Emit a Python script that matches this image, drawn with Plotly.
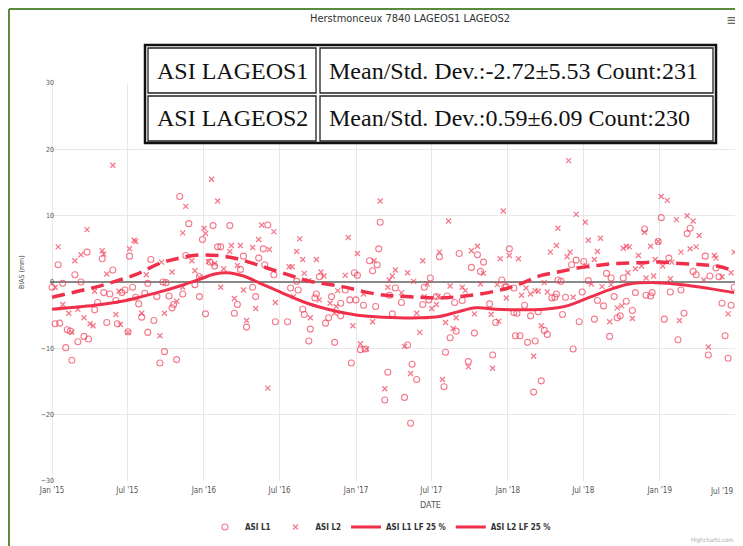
import numpy as np
import pandas as pd
import plotly.graph_objects as go

# ASI L1 (LAGEOS1) bias points: decimal year, bias in mm
l1_year = [2015.04, 2015.00, 2015.07, 2015.02, 2015.05, 2015.10, 2015.12, 2015.17, 2015.21, 2015.24,
           2015.09, 2015.13, 2015.15, 2015.19, 2015.23, 2015.33, 2015.40, 2015.28, 2015.30, 2015.34,
           2015.38, 2015.46, 2015.48, 2015.42, 2015.36, 2015.43, 2015.50, 2015.51, 2015.53, 2015.55,
           2015.57, 2015.59, 2015.61, 2015.63, 2015.65, 2015.67, 2015.63, 2015.71, 2015.74, 2015.82,
           2015.69, 2015.73, 2015.75, 2015.77, 2015.80, 2015.79, 2015.84, 2015.86, 2015.88, 2015.90,
           2015.94, 2015.97, 2015.97, 2015.99, 2016.01, 2016.04, 2016.06, 2016.07, 2016.09, 2016.11,
           2016.17, 2016.20, 2016.22, 2016.24, 2016.26, 2016.28, 2016.32, 2016.34, 2016.36, 2016.39,
           2016.40, 2016.42, 2016.46, 2016.47, 2016.55, 2016.57, 2016.61, 2016.62, 2016.65, 2016.66,
           2016.69, 2016.70, 2016.74, 2016.73, 2016.76, 2016.80, 2016.82, 2016.84, 2016.86, 2016.90,
           2016.90, 2016.93, 2016.96, 2016.97, 2016.99, 2017.00, 2017.01, 2017.03, 2017.06, 2017.05,
           2017.09, 2017.11, 2017.13, 2017.15, 2017.16, 2017.14, 2017.19, 2017.21, 2017.22, 2017.24,
           2017.26, 2017.30, 2017.32, 2017.34, 2017.36, 2017.37, 2017.40, 2017.44, 2017.45, 2017.48,
           2017.49, 2017.53, 2017.55, 2017.58, 2017.59, 2017.60, 2017.62, 2017.65, 2017.66, 2017.68,
           2017.70, 2017.74, 2017.76, 2017.78, 2017.80, 2017.82, 2017.84, 2017.88, 2017.90, 2017.92,
           2017.96, 2017.98, 2018.01, 2017.99, 2018.04, 2018.04, 2018.06, 2018.05, 2018.08, 2018.11,
           2018.13, 2018.15, 2018.17, 2018.18, 2018.20, 2018.22, 2018.24, 2018.26, 2018.29, 2018.31,
           2018.32, 2018.33, 2018.35, 2018.36, 2018.38, 2018.42, 2018.43, 2018.45, 2018.47, 2018.49,
           2018.50, 2018.53, 2018.57, 2018.59, 2018.63, 2018.65, 2018.67, 2018.68, 2018.70, 2018.72,
           2018.74, 2018.76, 2018.78, 2018.82, 2018.84, 2018.90, 2018.91, 2018.94, 2018.95, 2018.99,
           2019.01, 2019.03, 2019.06, 2019.07, 2019.12, 2019.14, 2019.16, 2019.18, 2019.20, 2019.22,
           2019.24, 2019.30, 2019.32, 2019.33, 2019.37, 2019.39, 2019.41, 2019.43, 2019.45, 2019.47,
           2019.49]
l1_bias = [2.6, -0.8, -0.2, -6.3, -6.2, -7.2, -7.4, -9.0, -8.2, -8.6,
           -9.9, -11.8, 1.1, 0.0, 4.5, 3.5, 1.8, -4.2, -3.1, -1.6,
           -1.8, -1.6, -1.2, -2.8, -6.1, -6.3, -7.5, 3.9, -0.8, -2.3,
           -3.3, -5.3, -1.7, -0.2, 3.4, -5.8, -7.6, -12.2, -10.5, -11.7,
           -2.2, 0.0, -0.1, -2.1, -3.4, -3.9, 12.9, -1.8, 4.0, 8.8,
           -0.4, -2.2, 0.8, 6.4, -4.8, 3.0, 8.5, 2.4, 5.3, 5.3,
           8.5, -4.7, -3.4, 1.9, 3.9, -6.8, -0.8, -2.2, 3.6, 5.0,
           2.6, 8.6, 1.1, -6.0, -6.0, -0.9, 0.1, -1.2, -4.1, -4.9,
           -8.9, -7.1, -1.8, -2.4, 0.8, -6.2, -5.4, -2.2, -9.1, -3.2,
           -5.1, -1.2, -2.7, -12.2, 1.4, -2.7, 1.0, -10.2, -10.1, -3.5,
           3.2, 1.7, -3.7, 5.0, 9.0, 2.6, -17.8, -13.6, -2.0, -4.8,
           -0.9, -3.1, -17.4, -9.5, -21.3, -12.4, -14.7, -3.4, -0.8, -2.7,
           0.6, -2.2, 3.8, -15.8, -10.6, -2.1, -8.4, -3.1, -7.4, 4.3,
           -2.8, -12.0, 2.2, -7.7, 4.1, 1.6, 3.0, -3.3, -11.0, -6.1,
           0.3, -0.8, 5.0, -0.7, -0.9, -4.6, -4.7, -8.1, -8.1, -3.5,
           -9.1, -5.1, -16.6, -8.9, -4.5, -14.9, -7.3, -7.9, -2.4, -2.3,
           -1.8, 0.3, 0.1, -4.9, -2.3, 2.6, -10.1, 3.3, -6.0, -1.5,
           3.1, 0.2, -5.6, -2.8, -3.6, 1.3, -8.2, 0.6, -2.2, -5.4,
           -5.1, 0.6, -2.9, -4.3, -1.6, 8.0, -2.0, -2.1, -1.6, 6.1,
           9.7, -5.6, 3.6, -1.5, -8.7, -1.2, -4.7, 7.3, 8.1, 1.6,
           1.1, 3.9, -11.0, 0.9, 2.1, 0.8, -3.2, -8.1, -11.5, -3.5,
           -0.8]

# ASI L2 (LAGEOS2) bias points
l2_year = [2015.04, 2015.02, 2015.07, 2015.11, 2015.13, 2015.15, 2015.17, 2015.19, 2015.21, 2015.23,
           2015.25, 2015.27, 2015.28, 2015.33, 2015.34, 2015.36, 2015.40, 2015.42, 2015.44, 2015.45,
           2015.50, 2015.51, 2015.54, 2015.55, 2015.59, 2015.62, 2015.71, 2015.72, 2015.74, 2015.79,
           2015.82, 2015.86, 2015.86, 2015.88, 2015.92, 2015.94, 2015.97, 2016.00, 2016.01, 2016.03,
           2016.05, 2016.07, 2016.09, 2016.11, 2016.13, 2016.17, 2016.18, 2016.20, 2016.22, 2016.24,
           2016.26, 2016.28, 2016.32, 2016.34, 2016.36, 2016.38, 2016.42, 2016.43, 2016.46, 2016.47,
           2016.56, 2016.58, 2016.59, 2016.61, 2016.63, 2016.65, 2016.66, 2016.69, 2016.70, 2016.74,
           2016.76, 2016.77, 2016.79, 2016.83, 2016.86, 2016.87, 2016.88, 2016.93, 2016.95, 2016.98,
           2017.01, 2017.03, 2017.05, 2017.07, 2017.11, 2017.12, 2017.16, 2017.19, 2017.21, 2017.22,
           2017.24, 2017.26, 2017.30, 2017.32, 2017.34, 2017.36, 2017.38, 2017.40, 2017.42, 2017.44,
           2017.45, 2017.47, 2017.50, 2017.53, 2017.54, 2017.55, 2017.57, 2017.59, 2017.61, 2017.62,
           2017.64, 2017.66, 2017.70, 2017.72, 2017.74, 2017.76, 2017.78, 2017.80, 2017.82, 2017.84,
           2017.89, 2017.90, 2017.93, 2017.94, 2017.95, 2017.97, 2017.99, 2018.01, 2018.07, 2018.09,
           2018.12, 2018.15, 2018.17, 2018.18, 2018.20, 2018.22, 2018.24, 2018.26, 2018.28, 2018.32,
           2018.33, 2018.39, 2018.40, 2018.41, 2018.43, 2018.45, 2018.51, 2018.52, 2018.53, 2018.55,
           2018.57, 2018.59, 2018.61, 2018.62, 2018.67, 2018.68, 2018.72, 2018.75, 2018.76, 2018.78,
           2018.80, 2018.79, 2018.82, 2018.84, 2018.86, 2018.88, 2018.90, 2018.91, 2018.94, 2018.96,
           2018.97, 2018.99, 2019.01, 2019.02, 2019.05, 2019.07, 2019.08, 2019.11, 2019.13, 2019.14,
           2019.18, 2019.20, 2019.22, 2019.24, 2019.26, 2019.29, 2019.32, 2019.36, 2019.37, 2019.41,
           2019.45, 2019.47, 2019.49]
l2_bias = [5.3, -0.8, -3.4, -4.7, -7.6, 3.2, -4.1, 4.1, -5.4, 7.9,
           -6.3, -6.6, -1.4, 4.7, 4.2, 1.2, 17.6, -4.9, -1.4, -6.4,
           -7.6, 5.0, 6.3, 6.1, -4.7, 1.1, -8.1, 3.0, -4.7, 1.5,
           -2.9, 7.4, -0.8, 11.4, 3.2, 1.7, 0.7, 8.1, 7.3, 3.1,
           15.5, 2.8, 12.2, -0.8, 2.0, 4.6, 5.5, -2.5, 2.5, 5.5,
           -1.2, -5.8, 5.2, -4.0, 6.4, 8.6, -16.0, 4.9, 7.6, -3.1,
           2.3, 2.3, -2.2, 4.6, 6.5, 3.4, 1.3, 0.2, -5.4, 3.4,
           -2.7, 1.5, 0.9, -3.2, -4.7, -3.7, -1.3, 1.0, 6.7, -6.6,
           4.3, -9.3, -1.8, -10.1, -6.0, 3.2, 12.2, -16.1, -0.8, 0.3,
           0.9, 1.8, -1.6, -9.7, 1.4, -13.8, 0.1, -4.7, -7.6, 3.2,
           -2.2, -0.3, -4.0, -3.4, -2.2, 4.5, -14.7, -6.1, 9.2, -0.6,
           -7.0, -5.4, -0.8, -1.3, -12.8, 4.7, -4.8, 5.4, -0.3, 1.3,
           -4.9, -13.0, -0.4, -5.9, 3.5, 10.7, -2.4, 4.0, 3.5, -2.0,
           -0.9, -1.8, -11.2, -1.3, -1.4, -6.6, -0.1, -1.5, 4.5, 5.5,
           8.1, 3.8, 18.3, 4.5, -2.3, 10.2, 9.0, 2.4, 6.3, -0.3,
           3.4, 4.6, 6.6, -0.7, -6.0, -0.4, -3.9, -3.6, 5.1, 5.4,
           5.3, 1.4, -5.5, 2.0, 4.0, 2.4, 7.5, 0.6, 5.4, 0.9,
           3.4, 6.1, 12.9, 2.4, 12.3, 0.5, 3.0, 9.4, -5.8, 4.5,
           10.0, 5.0, 9.2, 5.3, 7.0, 0.3, -9.8, 4.0, 3.6, 0.8,
           -4.8, 1.4, 4.5]

# low-pass fits (LF 25 %)
l1_lf_year = [2015.00, 2015.28, 2015.46, 2015.59, 2015.74, 2015.84, 2015.97, 2016.07, 2016.15, 2016.26,
              2016.37, 2016.52, 2016.68, 2016.85, 2017.01, 2017.18, 2017.42, 2017.55, 2017.67, 2017.79,
              2017.92, 2018.06, 2018.24, 2018.39, 2018.55, 2018.69, 2018.80, 2018.98, 2019.15, 2019.33,
              2019.49]
l1_lf = [-4.1, -3.5, -2.9, -2.2, -1.3, -0.6, 0.4, 1.2, 1.4, 0.9,
         -0.2, -1.7, -3.2, -4.3, -5.0, -5.3, -5.4, -5.2, -4.5, -3.9,
         -4.1, -4.2, -4.1, -3.6, -2.2, -1.0, -0.3, -0.1, -0.4, -1.0,
         -1.6]
l2_lf_year = [2015.00, 2015.17, 2015.30, 2015.43, 2015.55, 2015.64, 2015.72, 2015.80, 2015.93, 2016.09,
              2016.22, 2016.35, 2016.47, 2016.58, 2016.68, 2016.91, 2017.13, 2017.26, 2017.42, 2017.55,
              2017.68, 2017.82, 2017.97, 2018.09, 2018.22, 2018.33, 2018.46, 2018.59, 2018.72, 2018.87,
              2019.00, 2019.13, 2019.28, 2019.40, 2019.49]
l2_lf = [-2.3, -1.4, -0.7, 0.2, 1.1, 2.1, 2.9, 3.4, 4.0, 4.0,
         3.5, 2.6, 1.7, 0.9, 0.2, -0.7, -1.8, -2.1, -2.3, -2.4,
         -2.2, -1.8, -1.1, -0.2, 1.0, 1.5, 2.1, 2.5, 2.8, 2.9,
         3.0, 2.8, 2.6, 2.3, 1.6]

# x axis ticks
tick_dates = ["2015-01-01", "2015-07-01", "2016-01-01", "2016-07-01", "2017-01-01",
              "2017-07-01", "2018-01-01", "2018-07-01", "2019-01-01", "2019-07-01"]
tick_labels = ["Jan '15", "Jul '15", "Jan '16", "Jul '16", "Jan '17",
               "Jul '17", "Jan '18", "Jul '18", "Jan '19", "Jul '19"]

table_rows = [["ASI LAGEOS1", "Mean/Std. Dev.:-2.72\u00b15.53 Count:231"],
              ["ASI LAGEOS2", "Mean/Std. Dev.:0.59\u00b16.09 Count:230"]]


def to_date(years):
    y = np.array(years)
    return pd.Timestamp("2015-01-01") + pd.to_timedelta((y - 2015) * 365.25, unit="D")


# the page puts the figure 8px in from the top-left corner
OFF = 8
W, H = 743 - OFF, 546 - OFF
L, R, T, B = 42, 3, 75, 65
PW, PH = W - L - R, H - T - B


def px(x):
    # screen x -> paper x
    return (x - OFF - L) / PW


def py(y):
    # screen y -> paper y
    return (H - B - (y - OFF)) / PH


mark_col = "rgba(240,65,90,0.7)"
line_col = "#f0304a"
sans = "DejaVu Sans Condensed, Liberation Sans, Arial, sans-serif"
serif = "Liberation Serif, Times New Roman, serif"
tick_font = dict(family=sans, size=8, color="#555")

fig = go.Figure()
fig.add_trace(go.Scatter(x=to_date(l1_year), y=l1_bias, mode="markers", name="ASI L1",
                         marker=dict(symbol="circle-open", size=6, color=mark_col, line=dict(width=1.1)),
                         cliponaxis=False))
fig.add_trace(go.Scatter(x=to_date(l2_year), y=l2_bias, mode="markers", name="ASI L2",
                         marker=dict(symbol="x-thin-open", size=5, color=mark_col, line=dict(width=1.3, color=mark_col)),
                         cliponaxis=False))
fig.add_trace(go.Scatter(x=to_date(l1_lf_year), y=l1_lf, mode="lines", name="ASI L1 LF 25 %",
                         line=dict(color=line_col, width=3, shape="spline")))
fig.add_trace(go.Scatter(x=to_date(l2_lf_year), y=l2_lf, mode="lines", name="ASI L2 LF 25 %",
                         line=dict(color=line_col, width=3.5, shape="spline", dash="13px,7px"),
                         legendgroup="l2lf", showlegend=False))
# legend entry for the dashed fit is drawn solid, as in the original legend
fig.add_trace(go.Scatter(x=[None], y=[None], mode="lines", name="ASI L2 LF 25 %",
                         line=dict(color=line_col, width=3), legendgroup="l2lf"))

shapes = [
    # green frame
    dict(type="line", xref="paper", yref="paper", x0=px(9), x1=px(760), y0=py(9), y1=py(9),
         line=dict(color="#5a8a3c", width=2)),
    dict(type="line", xref="paper", yref="paper", x0=px(9), x1=px(9), y0=py(9), y1=py(560),
         line=dict(color="#5a8a3c", width=2)),
    # table overlay
    dict(type="rect", xref="paper", yref="paper", x0=px(145), x1=px(716), y0=py(45), y1=py(143),
         fillcolor="white", line=dict(color="#111", width=2.5), layer="above"),
]
cells = [(148, 316, 48, 93), (320, 713, 48, 93), (148, 316, 96, 141), (320, 713, 96, 141)]
for x0, x1, y0, y1 in cells:
    shapes.append(dict(type="rect", xref="paper", yref="paper", x0=px(x0), x1=px(x1), y0=py(y0), y1=py(y1),
                       line=dict(color="#222", width=1.3), layer="above"))

annotations = []
for i, (name, stat) in enumerate(table_rows):
    yc = 71 + i * 47
    annotations.append(dict(x=px(155), y=py(yc), xref="paper", yref="paper", text=name, showarrow=False,
                            xanchor="left", yanchor="middle", font=dict(family=serif, size=24, color="#111")))
    annotations.append(dict(x=px(327), y=py(yc), xref="paper", yref="paper", text=stat, showarrow=False,
                            xanchor="left", yanchor="middle", font=dict(family=serif, size=24, color="#111")))

annotations += [
    dict(x=px(410), y=py(18), xref="paper", yref="paper", text="Herstmonceux 7840 LAGEOS1 LAGEOS2",
         showarrow=False, xanchor="center", yanchor="middle", font=dict(family=sans, size=11, color="#333")),
    dict(x=px(732), y=py(20), xref="paper", yref="paper", text="\u2261", showarrow=False,
         xanchor="center", yanchor="middle", font=dict(family="DejaVu Sans", size=15, color="#666")),
    dict(x=px(22), y=py(272), xref="paper", yref="paper", text="BIAS (mm)", textangle=-90,
         showarrow=False, xanchor="center", yanchor="middle", font=dict(family=sans, size=7, color="#555")),
    dict(x=px(430), y=py(505), xref="paper", yref="paper", text="DATE", showarrow=False,
         xanchor="center", yanchor="middle", font=dict(family=sans, size=9, color="#555")),
    dict(x=px(736), y=py(540), xref="paper", yref="paper", text="Highcharts.com", showarrow=False,
         xanchor="right", yanchor="middle", font=dict(family=sans, size=6, color="#aaa")),
    # last date label is pulled inside the edge, like the original
    dict(x=px(736), y=py(491), xref="paper", yref="paper", text=tick_labels[-1], showarrow=False,
         xanchor="right", yanchor="middle", font=tick_font),
]

fig.update_layout(
    width=W, height=H,
    margin=dict(l=L, r=R, t=T, b=B, autoexpand=False),
    paper_bgcolor="white", plot_bgcolor="white",
    showlegend=True,
    legend=dict(orientation="h", x=(360 - OFF) / W, xanchor="center", y=(H - (527 - OFF)) / H,
                yanchor="middle", yref="container",
                font=dict(family=sans, size=8, color="#333", weight="bold"),
                itemwidth=30, tracegroupgap=0),
    xaxis=dict(type="date", range=["2014-12-27", "2019-07-13"],
               tickvals=tick_dates, ticktext=tick_labels[:-1] + [""],
               showgrid=True, gridcolor="#e8e8e8", gridwidth=1,
               zeroline=False, showline=False, ticks="", automargin=False, ticklabelstandoff=3,
               tickfont=tick_font),
    yaxis=dict(range=[-30, 30], dtick=10, showgrid=True, gridcolor="#e8e8e8", gridwidth=1,
               zeroline=True, zerolinecolor="#888", zerolinewidth=2, showline=False, ticks="",
               automargin=False, ticklabelstandoff=-5,
               tickfont=dict(family=sans, size=7, color="#555")),
    shapes=shapes,
    annotations=annotations,
)

fig.write_html("out.html")
